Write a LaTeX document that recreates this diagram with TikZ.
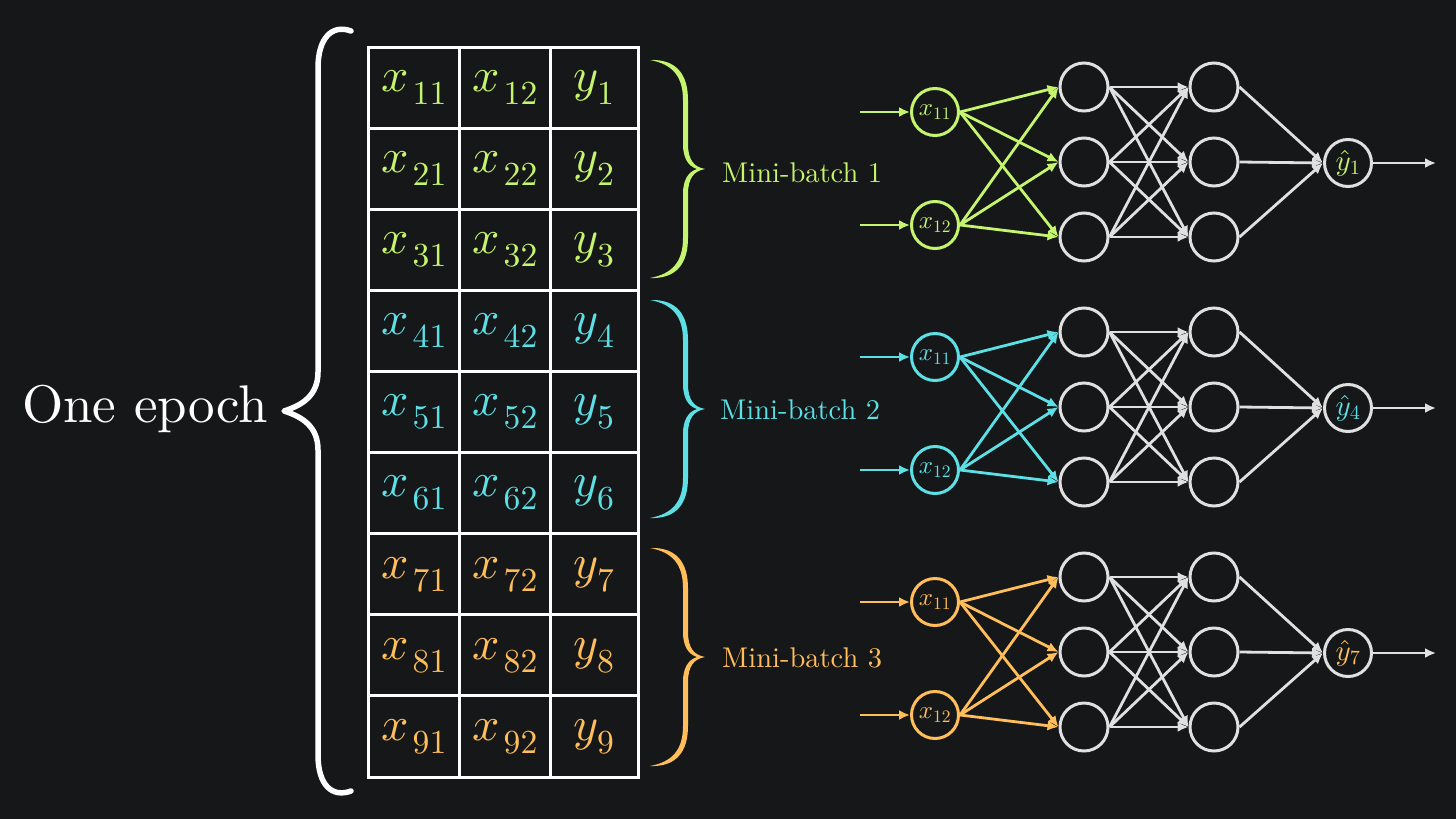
\documentclass[tikz,border=0pt]{standalone}
\usepackage[no-math]{fontspec}
\setmainfont{lmroman10-regular.otf}
\DeclareFontFamily{OML}{cmm}{\skewchar\font'177}
\DeclareFontShape{OML}{cmm}{m}{it}{<->cmmi10}{}
\DeclareFontFamily{OT1}{cmr}{\hyphenchar\font45}
\DeclareFontShape{OT1}{cmr}{m}{n}{<->cmr10}{}
\usetikzlibrary{arrows.meta}
\definecolor{bg}{RGB}{22,23,25}
\definecolor{cg}{RGB}{197,244,110}
\definecolor{cc}{RGB}{92,224,230}
\definecolor{co}{RGB}{255,190,90}
\definecolor{ng}{RGB}{224,224,224}
\newcommand\mbrace[2]{%
\fill[#2] (650,#1) .. controls (676,#1-1) and (688,#1+14) .. (688,#1+40) -- (688,#1+84)
 .. controls (688,#1+100) and (694,#1+107) .. (705,#1+109)
 .. controls (694,#1+111) and (688,#1+118) .. (688,#1+134) -- (688,#1+178)
 .. controls (688,#1+204) and (676,#1+219) .. (650,#1+218)
 .. controls (672,#1+214) and (683,#1+202) .. (683,#1+178) -- (683,#1+134)
 .. controls (683,#1+120) and (688,#1+112) .. (697,#1+109)
 .. controls (688,#1+106) and (683,#1+98) .. (683,#1+84) -- (683,#1+40)
 .. controls (683,#1+16) and (672,#1+4) .. (650,#1) -- cycle;}
\begin{document}
\begin{tikzpicture}[x=1pt,y=-1pt,
  cell/.style={text=#1, inner sep=0pt, font=\fontsize{48}{48}\selectfont},
  inp/.style={circle, draw=#1, text=#1, line width=3pt, minimum size=47pt, inner sep=0pt, font=\fontsize{25}{25}\selectfont},
  hid/.style={circle, draw=ng, line width=3pt, minimum size=48pt, inner sep=0pt},
  outp/.style={circle, draw=ng, text=#1, line width=3pt, minimum size=47pt, inner sep=0pt, font=\fontsize{29}{29}\selectfont},
  conn/.style={draw=#1, line width=2.8pt, -{Latex[length=11pt,width=10pt]}},
  lab/.style={text=#1, anchor=base west, inner sep=0pt, font=\fontsize{28.5}{28.5}\selectfont}]
\useasboundingbox (0,0) rectangle (1456,819);
\fill[bg] (0,0) rectangle (1456,819);
% title
\node[anchor=base west, inner sep=0pt, text=white, font=\fontsize{53}{53}\selectfont] (epoch) at (22,422) {One epoch};
% big brace
\draw[white, line width=5.5pt, line cap=round, line join=round]
  (351,31) .. controls (332,24) and (318,38) .. (318,68) -- (318,372)
  .. controls (318,395) and (303,405) .. (284,411)
  .. controls (303,417) and (318,427) .. (318,450) -- (318,755)
  .. controls (318,785) and (332,798) .. (351,791);
% table
\draw[white, line width=3pt] (368,47) rectangle (638,777);
\draw[white, line width=3pt] (459,47) -- (459,777) (550,47) -- (550,777);
\foreach \k in {1,...,8} {
  \draw[white, line width=3pt] (368,47+81.111*\k) -- (638,47+81.111*\k);
}
\foreach \r/\col in {1/cg,2/cg,3/cg,4/cc,5/cc,6/cc,7/co,8/co,9/co} {
  \pgfmathsetmacro\yy{47+81.111*(\r-0.5)}
  \node[cell=\col] (a\r) at (414,\yy) {$x_{\mkern3mu\r1}$};
  \node[cell=\col] (b\r) at (505,\yy) {$x_{\mkern3mu\r2}$};
  \node[cell=\col] (c\r) at (594,\yy) {$y_{\r}$};
}
% mini-batch braces and labels
\mbrace{60}{cg}
\mbrace{300}{cc}
\mbrace{548}{co}
\node[lab=cg] (l1) at (722,182) {Mini-batch 1};
\node[lab=cc] (l2) at (720,419) {Mini-batch 2};
\node[lab=co] (l3) at (722,667) {Mini-batch 3};
% networks
\foreach \k/\col/\o in {0/cg/1,1/cc/4,2/co/7} {
  \pgfmathsetmacro\dy{245*\k}
  \node[inp=\col] (i1-\k) at (935,112+\dy) {$x_{11}$};
  \node[inp=\col] (i2-\k) at (935,225+\dy) {$x_{12}$};
  \foreach \h/\hy in {1/87,2/162,3/237} {
    \node[hid] (h\h-\k) at (1084,\hy+\dy) {};
    \node[hid] (g\h-\k) at (1214,\hy+\dy) {};
  }
  \node[outp=\col] (o-\k) at (1348,163+\dy) {$\hat{y}_{\o}$};
  \coordinate (s1-\k) at (860,112+\dy);
  \coordinate (s2-\k) at (860,225+\dy);
  \coordinate (e-\k) at (1436,163+\dy);
  \draw[conn=\col] (s1-\k) -- (i1-\k.west);
  \draw[conn=\col] (s2-\k) -- (i2-\k.west);
  \foreach \a in {1,2} {
    \foreach \h in {1,2,3} {
      \draw[conn=\col] (i\a-\k.east) -- (h\h-\k.west);
    }
  }
  \foreach \a in {1,2,3} {
    \foreach \h in {1,2,3} {
      \draw[conn=ng] (h\a-\k.east) -- (g\h-\k.west);
    }
    \draw[conn=ng] (g\a-\k.east) -- (o-\k.west);
  }
  \draw[conn=ng] (o-\k.east) -- (e-\k);
}
\end{tikzpicture}
\end{document}
